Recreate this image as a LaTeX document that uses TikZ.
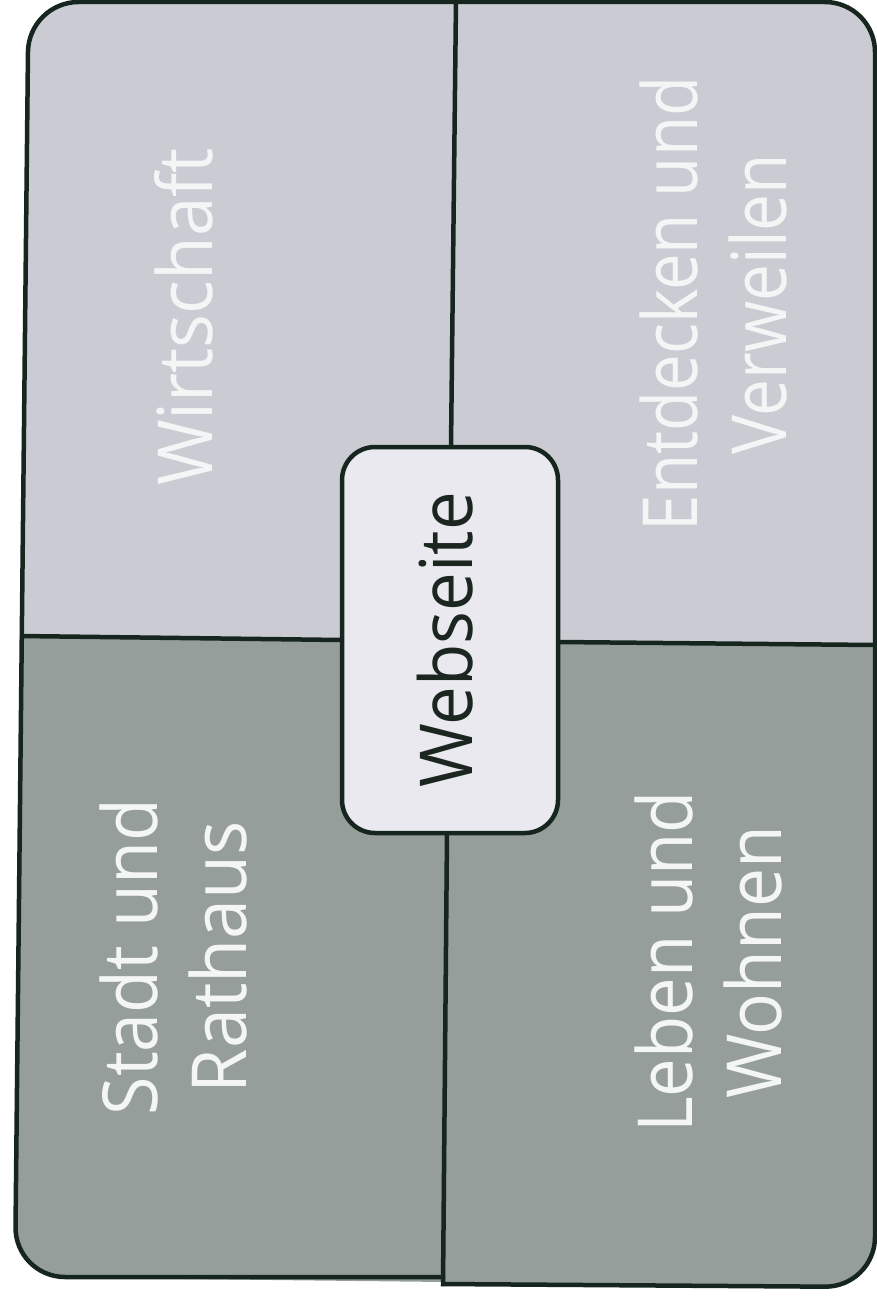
\documentclass[tikz,border=0pt]{standalone}
\usepackage{fontspec}
\setmainfont{Open Sans}
\usepackage{graphicx}
\definecolor{lightq}{RGB}{203,204,211}
\definecolor{darkq}{RGB}{149,158,155}
\definecolor{boxfill}{RGB}{233,233,239}
\definecolor{edge}{RGB}{22,38,30}
\definecolor{labelwhite}{RGB}{244,245,245}
\definecolor{webtext}{RGB}{28,38,33}
\newcommand\sqz[2]{\scalebox{#1}[1]{#2}}
\begin{document}
\begin{tikzpicture}[x=1pt,y=-1pt,
  border/.style={line width=4.5pt, draw=edge},
  lbl/.style={rotate=90, text=labelwhite, font=\fontsize{76}{89}\selectfont, align=center, inner sep=0pt}]
\fill[white] (0,0) rectangle (877,1298);
\useasboundingbox (0,0) rectangle (877,1298);
% fills
\begin{scope}
\clip[rounded corners=50pt] (28.5,2) -- (875,2) -- (875,1287) -- (15,1277) -- cycle;
\fill[darkq] (0,0) rectangle (877,1298);
\fill[lightq] (-5,-5) -- (890,-5) -- (890,645) -- (558,642) -- (342,640) -- (-5,636) -- cycle;
\end{scope}
% centre box
\node[draw=edge, line width=4.5pt, fill=boxfill, rounded corners=33pt,
      minimum width=216pt, minimum height=386pt, inner sep=0pt] (web) at (450,640) {};
\node[rotate=90, text=webtext, font=\fontsize{73}{88}\selectfont, inner sep=0pt] (webtxt) at (445,640) {\sqz{0.945}{Webseite}};
% divider end points
\coordinate (ttop) at (456,0);
\coordinate (tbox) at (451,447);
\coordinate (bbox) at (447,833);
\coordinate (bbot) at (443,1286);
\coordinate (lleft) at (20,636);
\coordinate (lbox) at (342,640);
\coordinate (rbox) at (558,642);
\coordinate (rright) at (875,645);
\draw[border] (ttop) -- (tbox);
\draw[border] (bbox) -- (bbot);
\draw[border] (lleft) -- (lbox);
\draw[border] (rbox) -- (rright);
% outer border
\draw[border, rounded corners=50pt] (456,2) -- (875,2) -- (875,1287) -- (441,1284);
\draw[border, rounded corners=50pt] (456,2) -- (28.5,2) -- (15,1277) -- (445,1277);
% labels
\node[lbl] (wirt) at (184,317) {\sqz{0.935}{Wirtschaft}};
\node[lbl] (entd) at (713.5,304) {\sqz{0.86}{Entdecken und}\\\sqz{0.865}{Verweilen}};
\node[lbl] (stadt) at (173.6,957) {\sqz{0.92}{Stadt und}\\\sqz{0.945}{Rathaus}};
\node[lbl] (leben) at (708.6,962) {\sqz{0.905}{Leben und}\\\sqz{0.915}{Wohnen}};
\end{tikzpicture}
\end{document}
